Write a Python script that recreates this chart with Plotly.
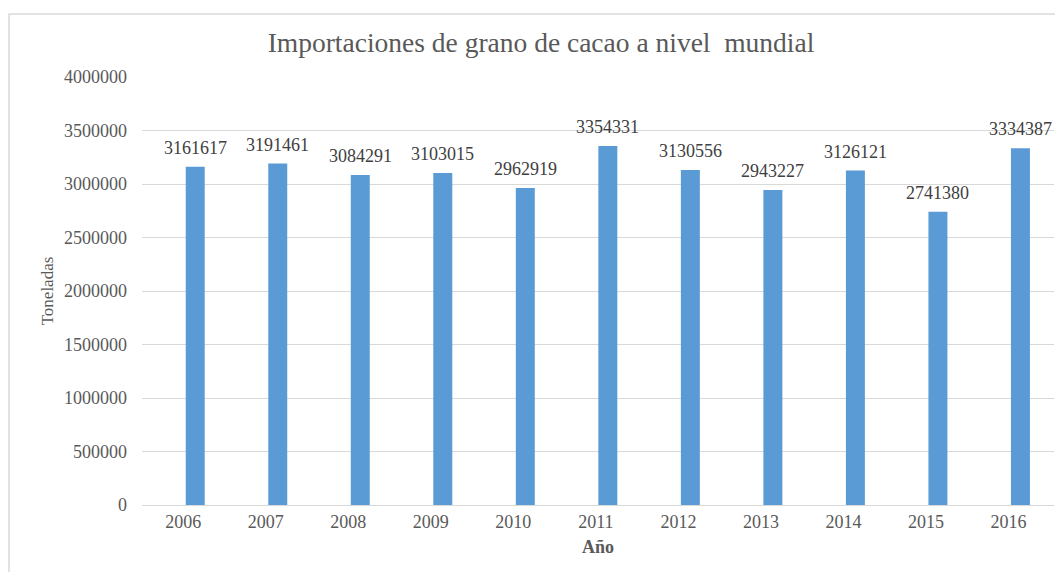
import plotly.graph_objects as go

years = ["2006", "2007", "2008", "2009", "2010", "2011", "2012", "2013", "2014", "2015", "2016"]
imports = [3161617, 3191461, 3084291, 3103015, 2962919, 3354331, 3130556, 2943227, 3126121, 2741380, 3334387]
y_ticks = [0, 500000, 1000000, 1500000, 2000000, 2500000, 3000000, 3500000, 4000000]

FONT = "Liberation Serif"
W, H = 1063, 572
OFF = 8  # page offset of the figure
L, R, T, B = 142 - OFF, 9 + OFF, 77 - OFF, 67 + OFF
pw = W - L - R
ph = H - T - B

BAR_W, BAR_OFF = 0.23, 0.03
cat_px = pw / len(years)

def px_x(x):
    return (x - OFF - L) / pw

def px_y(y):
    return (H - B - (y - OFF)) / ph

fig = go.Figure(go.Bar(
    x=years, y=imports,
    width=BAR_W, offset=BAR_OFF,
    marker=dict(color="#5b9bd5", line=dict(width=0)),
    cliponaxis=False,
))

annotations = [
    dict(x=i, y=v, xref="x", yref="y", text=str(v), showarrow=False,
         xanchor="center", yanchor="bottom",
         xshift=(BAR_OFF + BAR_W / 2) * cat_px, yshift=7,
         font=dict(family=FONT, size=18, color="#404040"))
    for i, v in enumerate(imports)
]

fig.update_layout(
    width=W, height=H,
    margin=dict(l=L, r=R, t=T, b=B),
    paper_bgcolor="white", plot_bgcolor="white",
    showlegend=False,
    annotations=annotations,
    title=dict(text="Importaciones de grano de cacao a nivel  mundial",
               font=dict(family=FONT, size=27.5, color="#595959"),
               x=(541 - OFF) / W, xanchor="center", y=1 - (42 - OFF) / H, yanchor="middle"),
    xaxis=dict(type="category", showgrid=False, showline=True, linecolor="#d9d9d9", linewidth=1,
               tickfont=dict(family=FONT, size=18, color="#595959"),
               ticks="", title=dict(text="<b>Año</b>", font=dict(family=FONT, size=18, color="#595959"), standoff=9)),
    yaxis=dict(range=[0, 4000000], tickvals=y_ticks, ticktext=[str(v) for v in y_ticks],
               showgrid=True, gridcolor="#d9d9d9", gridwidth=1, zeroline=False,
               tickfont=dict(family=FONT, size=18, color="#595959"), ticks="",
               ticklabelstandoff=14,
               title=dict(text="Toneladas", font=dict(family=FONT, size=17, color="#595959"), standoff=6)),
    shapes=[dict(type="rect", xref="paper", yref="paper",
                 x0=px_x(9), x1=px_x(1080), y0=px_y(600), y1=px_y(14),
                 line=dict(color="#d9d9d9", width=1.5), fillcolor="rgba(0,0,0,0)", layer="below")],
)

fig.write_html("out.html")
